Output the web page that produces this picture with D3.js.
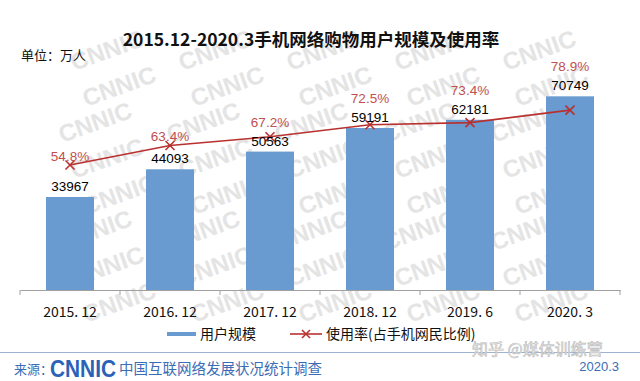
<!DOCTYPE html>
<html><head><meta charset="utf-8">
<script src="https://cdn.jsdelivr.net/npm/d3@7/dist/d3.min.js"></script>
<style>
html,body{margin:0;padding:0;background:#fff;}
svg{display:block;}
</style></head>
<body>
<svg id="chart" width="640" height="381"></svg>
<script>
const categories = ["2015. 12", "2016. 12", "2017. 12", "2018. 12", "2019. 6", "2020. 3"];
const users = [33967, 44093, 50563, 59191, 62181, 70749];
const rates = [54.8, 63.4, 67.2, 72.5, 73.4, 78.9];
const title = "2015.12-2020.3手机网络购物用户规模及使用率";
const unitLabel = "单位：万人";
const legendLabels = ["用户规模", "使用率(占手机网民比例)"];

const CJK = "'Noto Sans CJK SC','Noto Sans',sans-serif";
const NUM = "'Liberation Sans',Arial,sans-serif";
const svg = d3.select("#chart");

// watermark (only marks fully inside the picture)
const wm = svg.append("g").attr("fill", "#e4e4e4").attr("font-family", NUM)
  .attr("font-weight", "bold").attr("font-size", 24);
for (let r = 0; r < 11; r++) {
  for (let c = 0; c < 7; c++) {
    const x = -10 + c * 108 + (r % 3) * 12;
    const y = 22 + r * 36;
    if (x < 48 || x > 596 || y < 30 || y > 330) continue;
    wm.append("text").attr("transform", `translate(${x},${y}) rotate(-20)`)
      .attr("text-anchor", "middle").text("CNNIC");
  }
}

const x = d3.scaleBand().domain(categories).range([20, 620]).paddingInner(0.52).paddingOuter(0.26);
const y = d3.scaleLinear().domain([0, 80000]).range([290, 71]);
const y2 = d3.scaleLinear().domain([0, 100]).range([290, 62]);

// title
svg.append("text").attr("x", 311).attr("y", 46).attr("text-anchor", "middle")
  .attr("font-family", CJK).attr("font-weight", "bold").attr("font-size", 17.5)
  .attr("fill", "#111").text(title);
svg.append("text").attr("x", 21).attr("y", 60).attr("font-family", CJK)
  .attr("font-size", 13).attr("fill", "#111").text(unitLabel);

// bars
svg.append("g").selectAll("rect").data(users).join("rect")
  .attr("x", (d, i) => x(categories[i])).attr("width", x.bandwidth())
  .attr("y", d => y(d)).attr("height", d => y(0) - y(d)).attr("fill", "#699ad0");

// axis
const axis = svg.append("g").attr("transform", `translate(0,${y(0)})`)
  .call(d3.axisBottom(x).tickSize(0).tickPadding(17));
axis.select(".domain").attr("stroke", "#a0a0a0");
axis.selectAll(".tick text").attr("font-family", CJK).attr("font-size", 14).attr("fill", "#111");
const bounds = categories.map(c => x(c) - x.step() * x.paddingInner() / 2).concat([620]);
axis.selectAll("line.b").data(bounds).join("line").attr("class", "b")
  .attr("x1", d => d).attr("x2", d => d).attr("y1", 0).attr("y2", 5).attr("stroke", "#a0a0a0");

// line
const cx = (i) => x(categories[i]) + x.bandwidth() / 2;
const line = d3.line().x((d, i) => cx(i)).y(d => y2(d));
svg.append("path").datum(rates).attr("d", line).attr("fill", "none")
  .attr("stroke", "#b8312f").attr("stroke-width", 1.6);
const mk = svg.append("g").attr("stroke", "#b8312f").attr("stroke-width", 1.6);
rates.forEach((d, i) => {
  const px = cx(i), py = y2(d), s = 4.5;
  mk.append("line").attr("x1", px - s).attr("y1", py - s).attr("x2", px + s).attr("y2", py + s);
  mk.append("line").attr("x1", px - s).attr("y1", py + s).attr("x2", px + s).attr("y2", py - s);
});

// labels
const valBase = users.map(d => y(d) - 6);
svg.append("g").selectAll("text").data(users).join("text")
  .attr("x", (d, i) => cx(i)).attr("y", (d, i) => valBase[i]).attr("text-anchor", "middle")
  .attr("font-family", NUM).attr("font-size", 13.5).attr("fill", "#000").text(d => d);
svg.append("g").selectAll("text").data(rates).join("text")
  .attr("x", (d, i) => cx(i)).attr("y", (d, i) => Math.min(y2(d) - 4, valBase[i] - 19))
  .attr("text-anchor", "middle").attr("font-family", NUM).attr("font-size", 13.5)
  .attr("fill", "#c0504d").text(d => d.toFixed(1) + "%");

// legend
const lg = svg.append("g");
lg.append("line").attr("x1", 167).attr("x2", 196).attr("y1", 334).attr("y2", 334)
  .attr("stroke", "#699ad0").attr("stroke-width", 4);
lg.append("text").attr("x", 200).attr("y", 339).attr("font-family", CJK).attr("font-size", 14)
  .attr("fill", "#111").text(legendLabels[0]);
lg.append("line").attr("x1", 290).attr("x2", 322).attr("y1", 334).attr("y2", 334)
  .attr("stroke", "#b8312f").attr("stroke-width", 1.6);
lg.append("line").attr("x1", 302).attr("x2", 310).attr("y1", 330).attr("y2", 338)
  .attr("stroke", "#b8312f").attr("stroke-width", 1.6);
lg.append("line").attr("x1", 302).attr("x2", 310).attr("y1", 338).attr("y2", 330)
  .attr("stroke", "#b8312f").attr("stroke-width", 1.6);
lg.append("text").attr("x", 326).attr("y", 339).attr("font-family", CJK).attr("font-size", 14)
  .attr("fill", "#111").text(legendLabels[1]);

// footer
svg.append("line").attr("x1", 0).attr("x2", 640).attr("y1", 352.5).attr("y2", 352.5)
  .attr("stroke", "#9cb3d3").attr("stroke-width", 1);
svg.append("text").attr("x", 472).attr("y", 355).attr("font-family", CJK).attr("font-size", 16)
  .attr("fill", "#f4f4f4").attr("stroke", "#b8b8b8").attr("stroke-width", 0.6).text("知乎 @媒体训练营");
svg.append("text").attr("x", 14).attr("y", 374).attr("font-family", CJK).attr("font-size", 13)
  .attr("fill", "#3a6db5").text("来源：");
svg.append("text").attr("x", 50).attr("y", 377).attr("font-family", NUM).attr("font-weight", "900")
  .attr("font-size", 23).attr("fill", "#2a62b8").attr("textLength", 66).attr("lengthAdjust", "spacingAndGlyphs").text("CNNIC");
svg.append("text").attr("x", 119).attr("y", 374).attr("font-family", CJK).attr("font-size", 14.5)
  .attr("fill", "#3a6db5").text("中国互联网络发展状况统计调查");
svg.append("text").attr("x", 619).attr("y", 371).attr("text-anchor", "end").attr("font-family", NUM)
  .attr("font-size", 13).attr("fill", "#3a6db5").text("2020.3");
</script>
</body></html>
